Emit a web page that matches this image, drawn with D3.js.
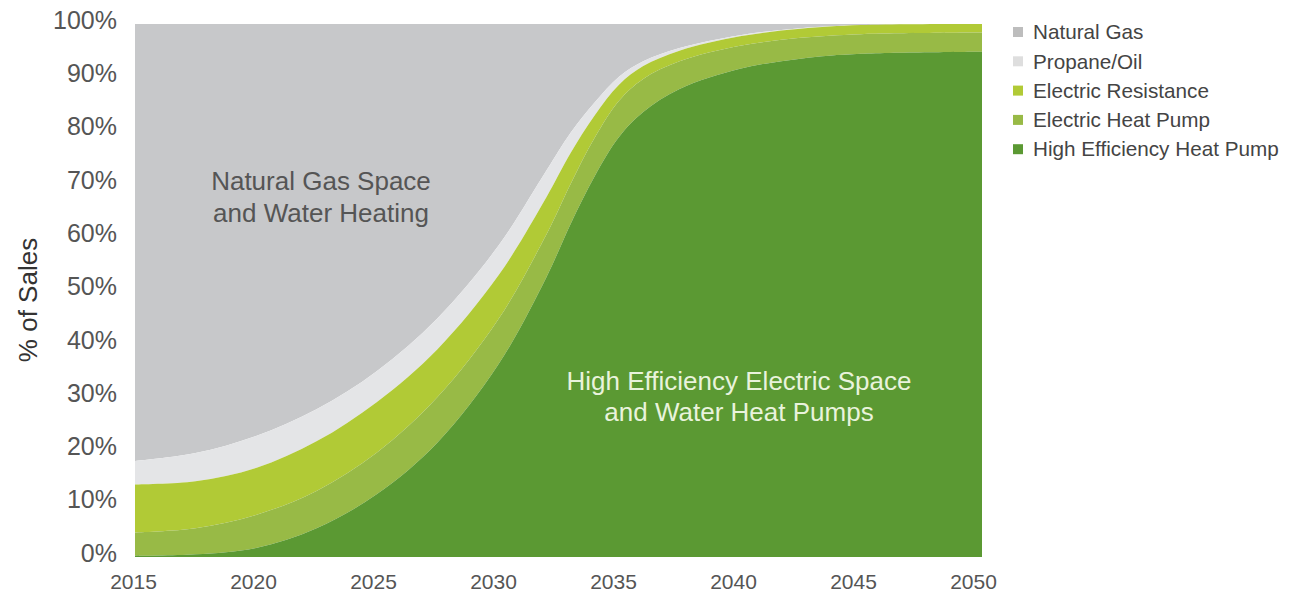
<!DOCTYPE html>
<html lang="en">
<head>
    <meta charset="UTF-8">
    <title>% of Sales</title>
    <script src="https://d3js.org/d3.v7.min.js"></script>
    <style>
        body { margin: 0; background: #fff; }
        text { font-family: "Liberation Sans", Arial, sans-serif; }
    </style>
</head>
<body>
<div id="chart"></div>
<script>
    // years (denser where the curve turns)
    let years = [2015, 2017.5, 2020, 2022.5, 2025, 2027.5, 2030, 2032, 2033, 2034, 2035, 2036, 2037.5, 2040, 2042.5, 2045, 2050];
    // share of sales, %
    let highEffHeatPump = [0.2, 0.5, 1.7, 5.4, 11.8, 21.5, 36, 52.5, 62.5, 71.5, 78.8, 83.5, 87.8, 91.6, 93.5, 94.4, 94.8];
    let electricHeatPump = [4.4, 4.9, 6.2, 7, 7.8, 8.5, 8.5, 8, 7.5, 7.2, 6.8, 6.2, 5.2, 4.3, 3.9, 3.7, 3.6];
    let electricResistance = [9, 8.8, 8.8, 9.3, 9.5, 9, 8.2, 7, 5.8, 4.2, 3, 2.4, 2, 1.8, 1.7, 1.7, 1.6];
    let propaneOil = [4.4, 5.3, 6, 6, 5.8, 5.8, 5.6, 5, 3.8, 2.4, 1.5, 0.9, 0.5, 0.2, 0.1, 0, 0];
    let naturalGas = [82, 80.5, 77.3, 72.3, 65.1, 55.2, 41.7, 27.5, 20.4, 14.7, 9.9, 7, 4.5, 2.1, 0.8, 0.2, 0];

    let xTicks = [2015, 2020, 2025, 2030, 2035, 2040, 2045, 2050];
    let yTicks = [0, 10, 20, 30, 40, 50, 60, 70, 80, 90, 100];

    let seriesKeys = ["hehp", "ehp", "er", "prop", "ng"];
    let legendNames = ["Natural Gas", "Propane/Oil", "Electric Resistance", "Electric Heat Pump", "High Efficiency Heat Pump"];
    let legendKeys = ["ng", "prop", "er", "ehp", "hehp"];
    let colors = {
        ng: "#c7c8ca",
        prop: "#e4e5e7",
        er: "#b1ca36",
        ehp: "#98ba46",
        hehp: "#5b9933"
    };
    let legendColors = {
        ng: "#bdbdbd",
        prop: "#dedede",
        er: "#b1ca36",
        ehp: "#98ba46",
        hehp: "#5b9933"
    };

    let data = years.map((y, i) => ({
        year: y,
        hehp: highEffHeatPump[i],
        ehp: electricHeatPump[i],
        er: electricResistance[i],
        prop: propaneOil[i],
        ng: naturalGas[i]
    }));

    let width = 1291, height = 594;
    let svg = d3.select("#chart").append("svg")
        .attr("width", width).attr("height", height);

    let x = d3.scaleLinear().domain([2015, 2050]).range([135, 982]);
    let xLabel = d3.scaleLinear().domain([2015, 2050]).range([133.5, 973.5]);
    let y = d3.scaleLinear().domain([0, 100]).range([557, 24]);

    svg.append("defs").append("clipPath").attr("id", "plotclip")
        .append("rect")
        .attr("x", x(2015)).attr("y", y(100))
        .attr("width", x(2050) - x(2015)).attr("height", y(0) - y(100));

    let stacked = d3.stack().keys(seriesKeys)(data);

    let area = d3.area()
        .x(d => x(d.data.year))
        .y0(d => y(d[0]))
        .y1(d => y(Math.min(100, d[1])))
        .curve(d3.curveCatmullRom.alpha(0.5));

    // gray background = natural gas layer top
    svg.append("g").attr("clip-path", "url(#plotclip)")
        .selectAll("path")
        .data(stacked.slice().reverse())
        .enter()
        .append("path")
        .attr("d", area)
        .attr("fill", d => colors[d.key]);

    // y tick labels
    svg.append("g").selectAll("text")
        .data(yTicks)
        .enter()
        .append("text")
        .attr("x", 117)
        .attr("y", d => y(d) - 4)
        .attr("dy", "0.35em")
        .attr("text-anchor", "end")
        .attr("font-size", 25)
        .attr("fill", "#555")
        .text(d => d + "%");

    // x tick labels
    svg.append("g").selectAll("text")
        .data(xTicks)
        .enter()
        .append("text")
        .attr("x", d => xLabel(d))
        .attr("y", 589)
        .attr("text-anchor", "middle")
        .attr("font-size", 21)
        .attr("fill", "#555")
        .text(d => d);

    svg.append("text")
        .attr("transform", "translate(37,300) rotate(-90)")
        .attr("text-anchor", "middle")
        .attr("font-size", 26)
        .attr("fill", "#333")
        .text("% of Sales");

    // annotations inside the areas
    let ngNote = svg.append("text")
        .attr("text-anchor", "middle")
        .attr("font-size", 26)
        .attr("fill", "#555");
    ngNote.append("tspan").attr("x", 321).attr("y", 190).text("Natural Gas Space");
    ngNote.append("tspan").attr("x", 321).attr("y", 222).text("and Water Heating");

    let hpNote = svg.append("text")
        .attr("text-anchor", "middle")
        .attr("font-size", 26)
        .attr("fill", "#e9f3dc");
    hpNote.append("tspan").attr("x", 739).attr("y", 390).text("High Efficiency Electric Space");
    hpNote.append("tspan").attr("x", 739).attr("y", 421).text("and Water Heat Pumps");

    // legend
    let legend = svg.append("g").selectAll("g")
        .data(legendKeys)
        .enter()
        .append("g")
        .attr("transform", (d, i) => "translate(1013," + (32 + i * 29.3) + ")");
    legend.append("rect")
        .attr("x", 0).attr("y", -5)
        .attr("width", 10).attr("height", 10)
        .attr("fill", d => legendColors[d]);
    legend.append("text")
        .attr("x", 20)
        .attr("dy", "0.35em")
        .attr("font-size", 20.7)
        .attr("fill", "#444")
        .text((d, i) => legendNames[i]);
</script>
</body>
</html>
